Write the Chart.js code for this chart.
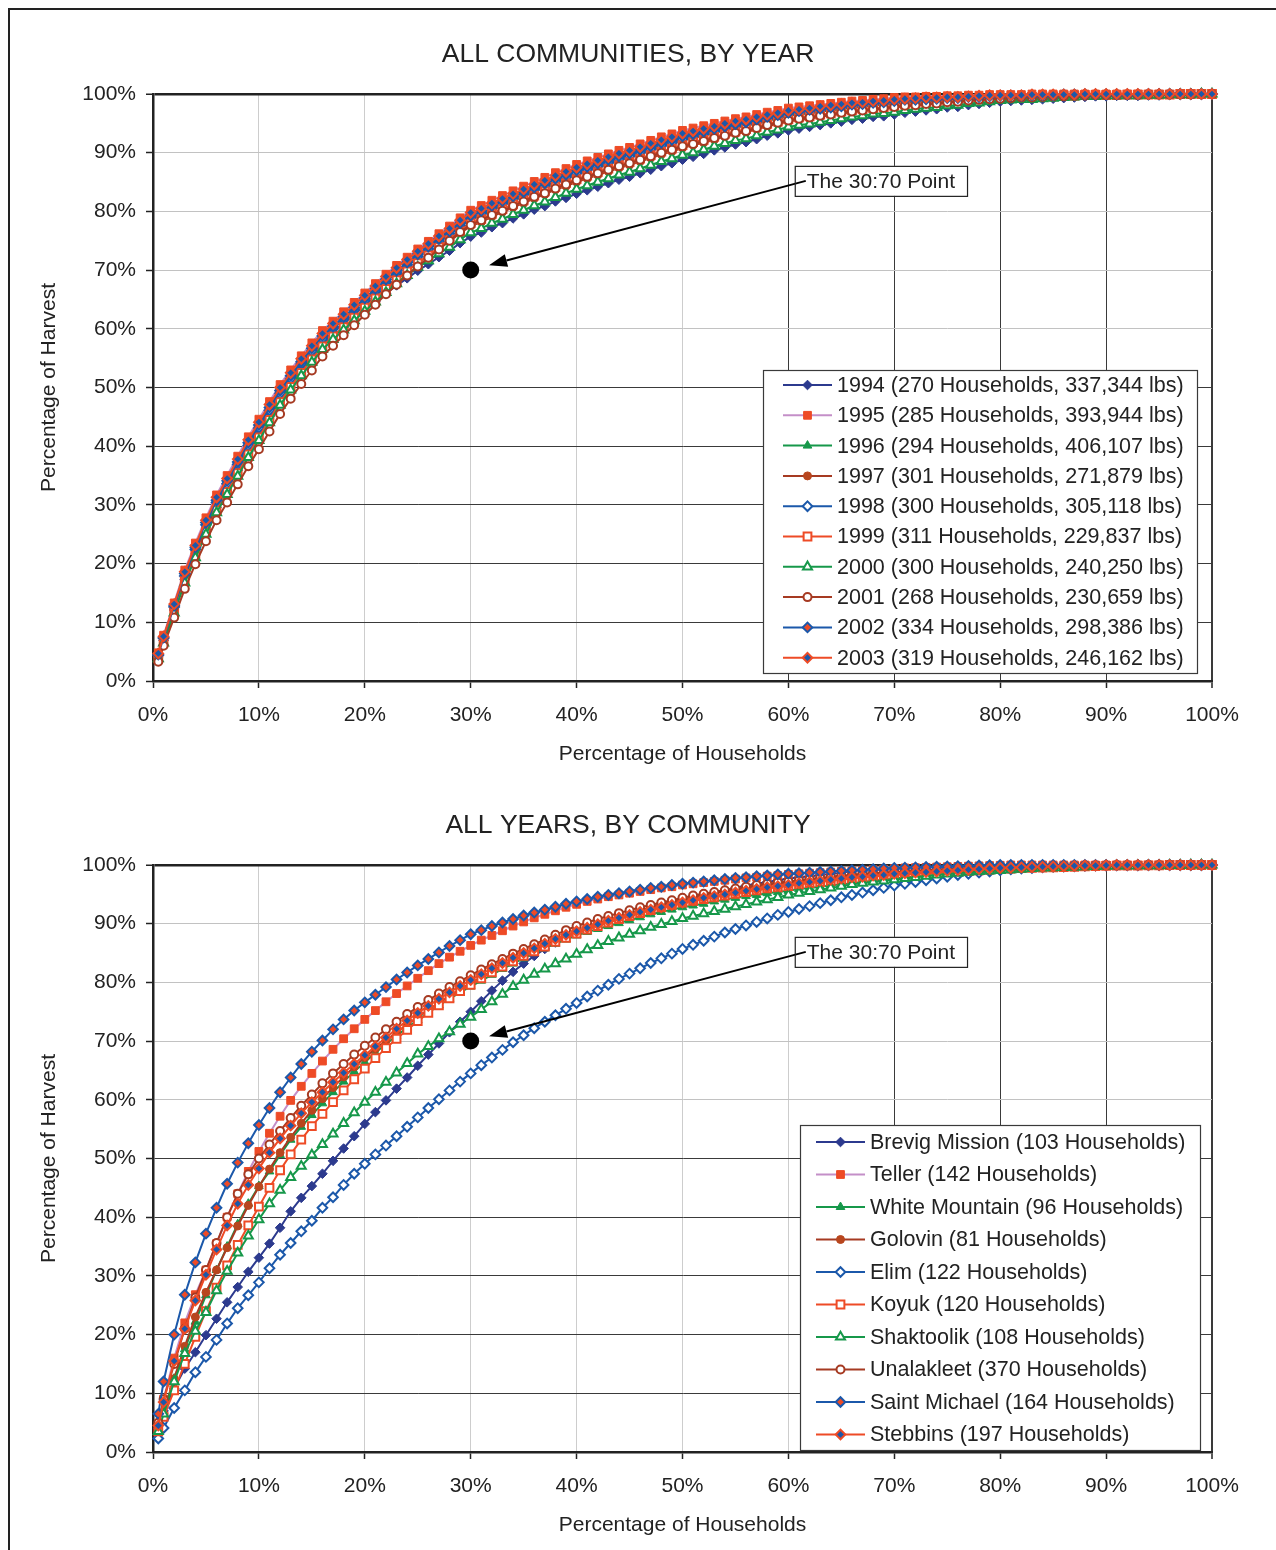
<!DOCTYPE html>
<html>
<head>
<meta charset="utf-8">
<title>Harvest distribution curves</title>
<script src="https://cdn.jsdelivr.net/npm/chart.js@4.4.0/dist/chart.umd.min.js"></script>
<style>
  html, body { margin: 0; padding: 0; background: #fff; }
  body { width: 1276px; height: 1550px; position: relative; overflow: hidden; }
  .frame { position: absolute; left: 8px; top: 8px; width: 1300px; height: 1600px;
           border-top: 2px solid #222; border-left: 2px solid #222; }
  canvas { position: absolute; left: 0; }
  #byYear { top: 0; }
  #byCommunity { top: 771px; }
</style>
</head>
<body>
<div class="frame"></div>
<canvas id="byYear" width="1276" height="779"></canvas>
<canvas id="byCommunity" width="1276" height="779"></canvas>
<script>
// cumulative % of households (x) at which the curves were read
const householdPct = [0.5, 1, 2, 3, 4, 5, 6, 7, 8, 9, 10,
  11, 12, 13, 14, 15, 16, 17, 18, 19, 20,
  21, 22, 23, 24, 25, 26, 27, 28, 29, 30,
  31, 32, 33, 34, 35, 36, 37, 38, 39, 40,
  41, 42, 43, 44, 45, 46, 47, 48, 49, 50,
  51, 52, 53, 54, 55, 56, 57, 58, 59, 60,
  61, 62, 63, 64, 65, 66, 67, 68, 69, 70,
  71, 72, 73, 74, 75, 76, 77, 78, 79, 80,
  81, 82, 83, 84, 85, 86, 87, 88, 89, 90,
  91, 92, 93, 94, 95, 96, 97, 98, 99, 100];

const yearLabels = [
  '1994 (270 Households, 337,344 lbs)',
  '1995 (285 Households, 393,944 lbs)',
  '1996 (294 Households, 406,107 lbs)',
  '1997 (301 Households, 271,879 lbs)',
  '1998 (300 Households, 305,118 lbs)',
  '1999 (311 Households, 229,837 lbs)',
  '2000 (300 Households, 240,250 lbs)',
  '2001 (268 Households, 230,659 lbs)',
  '2002 (334 Households, 298,386 lbs)',
  '2003 (319 Households, 246,162 lbs)'
];

const communityLabels = [
  'Brevig Mission (103 Households)',
  'Teller (142 Households)',
  'White Mountain (96 Households)',
  'Golovin (81 Households)',
  'Elim (122 Households)',
  'Koyuk (120 Households)',
  'Shaktoolik (108 Households)',
  'Unalakleet (370 Households)',
  'Saint Michael (164 Households)',
  'Stebbins (197 Households)'
];

// cumulative % of harvest, all communities by year
const y1994 = [4.1, 6.9, 12.1, 17.3, 21.7, 25.8, 29.6, 32.7, 35.9, 39.1, 42.1,
  45.1, 48.0, 50.6, 53.0, 55.3, 57.2, 58.8, 60.2, 61.7, 63.1,
  64.6, 66.0, 67.4, 68.6, 69.9, 71.0, 72.2, 73.3, 74.6, 75.7,
  76.4, 77.3, 78.0, 78.8, 79.5, 80.3, 80.9, 81.7, 82.3, 83.0,
  83.6, 84.2, 84.8, 85.4, 85.9, 86.5, 87.1, 87.7, 88.2, 88.8,
  89.3, 89.8, 90.4, 90.9, 91.4, 91.8, 92.3, 92.9, 93.3, 93.8,
  94.1, 94.4, 94.7, 95.0, 95.3, 95.6, 95.8, 96.1, 96.2, 96.5,
  96.8, 97.0, 97.2, 97.4, 97.7, 97.8, 98.1, 98.3, 98.5, 98.7,
  98.8, 98.9, 99.0, 99.1, 99.2, 99.3, 99.4, 99.5, 99.6, 99.6,
  99.7, 99.7, 99.7, 99.8, 99.8, 99.9, 99.9, 99.9, 100, 100];
const y1995 = [4.8, 7.8, 13.3, 18.9, 23.5, 27.8, 31.7, 35.0, 38.3, 41.6, 44.6,
  47.6, 50.5, 53.0, 55.4, 57.6, 59.7, 61.3, 62.9, 64.5, 66.1,
  67.7, 69.3, 70.8, 72.2, 73.6, 74.9, 76.2, 77.5, 78.9, 80.2,
  81.0, 81.9, 82.7, 83.5, 84.3, 85.1, 85.8, 86.6, 87.3, 88.0,
  88.6, 89.2, 89.8, 90.4, 90.9, 91.5, 92.1, 92.7, 93.2, 93.8,
  94.2, 94.6, 95.0, 95.4, 95.8, 96.1, 96.5, 96.9, 97.2, 97.6,
  97.8, 98.0, 98.2, 98.4, 98.6, 98.8, 98.9, 99.1, 99.2, 99.4,
  99.5, 99.5, 99.6, 99.6, 99.7, 99.7, 99.8, 99.8, 99.9, 99.9,
  99.9, 99.9, 100, 100, 100, 100, 100, 100, 100, 100,
  100, 100, 100, 100, 100, 100, 100, 100, 100, 100];
const y1996 = [4.5, 7.4, 12.8, 18.3, 22.8, 27.0, 30.8, 34.1, 37.3, 40.6, 43.6,
  46.6, 49.5, 52.0, 54.4, 56.7, 58.7, 60.3, 61.9, 63.5, 65.1,
  66.6, 68.2, 69.7, 71.0, 72.4, 73.7, 74.9, 76.2, 77.6, 78.6,
  79.4, 80.3, 81.1, 81.9, 82.6, 83.4, 84.1, 84.9, 85.6, 86.3,
  86.9, 87.5, 88.1, 88.7, 89.2, 89.8, 90.4, 91.0, 91.5, 92.1,
  92.5, 92.9, 93.4, 93.8, 94.3, 94.6, 95.0, 95.5, 95.8, 96.3,
  96.5, 96.7, 97.0, 97.2, 97.4, 97.7, 97.8, 98.1, 98.2, 98.4,
  98.6, 98.6, 98.8, 98.8, 99.0, 99.0, 99.2, 99.3, 99.4, 99.5,
  99.5, 99.6, 99.6, 99.7, 99.7, 99.8, 99.8, 99.8, 99.8, 99.9,
  99.9, 99.9, 99.9, 99.9, 99.9, 99.9, 100, 100, 100, 100];
const y1997 = [4.2, 7.1, 12.3, 17.6, 22.1, 26.2, 30.0, 33.2, 36.4, 39.6, 42.6,
  45.6, 48.5, 51.0, 53.5, 55.7, 57.8, 59.4, 60.9, 62.5, 64.0,
  65.5, 67.1, 68.5, 69.9, 71.2, 72.4, 73.7, 74.9, 76.3, 77.5,
  78.2, 79.1, 79.9, 80.7, 81.4, 82.2, 82.9, 83.7, 84.3, 85.0,
  85.6, 86.2, 86.8, 87.4, 87.9, 88.5, 89.1, 89.7, 90.2, 90.8,
  91.3, 91.7, 92.2, 92.7, 93.2, 93.5, 94.0, 94.5, 94.9, 95.3,
  95.6, 95.8, 96.1, 96.4, 96.6, 96.9, 97.0, 97.3, 97.4, 97.7,
  97.9, 98.0, 98.2, 98.3, 98.5, 98.6, 98.8, 98.9, 99.1, 99.2,
  99.2, 99.3, 99.4, 99.5, 99.5, 99.6, 99.6, 99.7, 99.7, 99.8,
  99.8, 99.8, 99.8, 99.9, 99.9, 99.9, 99.9, 99.9, 100, 100];
const y1998 = [4.4, 7.3, 12.6, 17.9, 22.4, 26.6, 30.4, 33.6, 36.9, 40.1, 43.1,
  46.1, 49.0, 51.5, 54.0, 56.2, 58.3, 60.0, 61.6, 63.2, 64.8,
  66.4, 68.0, 69.5, 70.9, 72.3, 73.6, 74.9, 76.2, 77.6, 78.9,
  79.6, 80.5, 81.3, 82.1, 82.9, 83.7, 84.3, 85.1, 85.8, 86.5,
  87.1, 87.7, 88.3, 88.9, 89.4, 90.0, 90.6, 91.2, 91.7, 92.3,
  92.7, 93.2, 93.6, 94.1, 94.5, 94.8, 95.2, 95.7, 96.0, 96.5,
  96.7, 96.9, 97.2, 97.4, 97.6, 97.8, 98.0, 98.2, 98.3, 98.5,
  98.7, 98.8, 98.9, 98.9, 99.1, 99.1, 99.3, 99.4, 99.5, 99.5,
  99.6, 99.6, 99.7, 99.7, 99.8, 99.8, 99.8, 99.9, 99.9, 99.9,
  99.9, 99.9, 99.9, 99.9, 99.9, 100, 100, 100, 100, 100];
const y1999 = [3.9, 6.7, 11.8, 17.0, 21.3, 25.4, 29.1, 32.2, 35.4, 38.6, 41.5,
  44.5, 47.5, 50.1, 52.5, 54.8, 57.0, 58.7, 60.3, 61.9, 63.6,
  65.2, 66.8, 68.3, 69.8, 71.2, 72.5, 73.9, 75.2, 76.6, 78.0,
  78.7, 79.6, 80.4, 81.2, 81.9, 82.7, 83.4, 84.2, 84.8, 85.5,
  86.1, 86.7, 87.3, 87.9, 88.4, 89.0, 89.6, 90.2, 90.7, 91.3,
  91.8, 92.2, 92.7, 93.2, 93.6, 94.0, 94.4, 94.9, 95.3, 95.7,
  96.0, 96.2, 96.5, 96.7, 97.0, 97.2, 97.4, 97.6, 97.7, 98.0,
  98.2, 98.3, 98.4, 98.5, 98.7, 98.8, 99.0, 99.1, 99.2, 99.3,
  99.4, 99.4, 99.5, 99.6, 99.6, 99.7, 99.7, 99.8, 99.8, 99.8,
  99.8, 99.9, 99.9, 99.9, 99.9, 99.9, 100, 100, 100, 100];
const y2000 = [3.8, 6.5, 11.6, 16.7, 21.0, 25.0, 28.7, 31.8, 34.9, 38.1, 41.0,
  44.0, 47.0, 49.6, 52.0, 54.3, 56.5, 58.2, 59.8, 61.4, 63.0,
  64.6, 66.2, 67.7, 69.1, 70.5, 71.6, 72.8, 73.9, 75.2, 76.4,
  77.1, 78.0, 78.7, 79.5, 80.2, 81.0, 81.6, 82.4, 83.1, 83.8,
  84.4, 85.0, 85.6, 86.2, 86.7, 87.3, 87.9, 88.5, 89.0, 89.6,
  90.0, 90.5, 91.1, 91.6, 92.1, 92.4, 92.9, 93.5, 93.9, 94.4,
  94.7, 94.9, 95.2, 95.5, 95.8, 96.1, 96.3, 96.6, 96.7, 96.9,
  97.2, 97.4, 97.6, 97.7, 98.0, 98.1, 98.4, 98.5, 98.7, 98.9,
  99.0, 99.1, 99.1, 99.2, 99.3, 99.4, 99.5, 99.6, 99.6, 99.7,
  99.7, 99.7, 99.7, 99.8, 99.8, 99.9, 99.9, 99.9, 100, 100];
const y2001 = [3.3, 6.0, 10.8, 15.7, 19.9, 23.8, 27.4, 30.4, 33.5, 36.6, 39.5,
  42.5, 45.5, 48.1, 50.6, 52.9, 55.3, 57.1, 58.9, 60.6, 62.4,
  64.1, 65.9, 67.5, 69.1, 70.6, 72.1, 73.5, 75.0, 76.5, 77.7,
  78.5, 79.4, 80.1, 80.9, 81.7, 82.5, 83.1, 83.9, 84.6, 85.3,
  85.9, 86.5, 87.1, 87.7, 88.2, 88.8, 89.4, 90.0, 90.5, 91.1,
  91.5, 92.0, 92.5, 92.9, 93.4, 93.7, 94.2, 94.7, 95.1, 95.5,
  95.8, 96.0, 96.3, 96.5, 96.8, 97.0, 97.2, 97.4, 97.6, 97.8,
  98.0, 98.1, 98.3, 98.4, 98.6, 98.7, 98.9, 99.0, 99.1, 99.2,
  99.3, 99.4, 99.4, 99.5, 99.6, 99.6, 99.7, 99.7, 99.8, 99.8,
  99.8, 99.8, 99.8, 99.9, 99.9, 99.9, 99.9, 99.9, 100, 100];
const y2002 = [4.5, 7.4, 12.8, 18.3, 22.8, 27.0, 30.8, 34.1, 37.3, 40.6, 43.6,
  46.6, 49.5, 52.0, 54.4, 56.7, 58.8, 60.4, 62.0, 63.6, 65.2,
  66.8, 68.4, 69.9, 71.3, 72.7, 74.0, 75.3, 76.6, 78.0, 79.3,
  80.1, 81.0, 81.8, 82.6, 83.3, 84.1, 84.8, 85.6, 86.3, 87.0,
  87.6, 88.2, 88.8, 89.4, 89.9, 90.5, 91.1, 91.7, 92.2, 92.8,
  93.2, 93.6, 94.1, 94.5, 94.9, 95.2, 95.7, 96.1, 96.4, 96.8,
  97.1, 97.3, 97.5, 97.7, 97.9, 98.2, 98.3, 98.5, 98.6, 98.8,
  99.0, 99.0, 99.1, 99.2, 99.3, 99.3, 99.5, 99.5, 99.6, 99.7,
  99.7, 99.7, 99.8, 99.8, 99.8, 99.9, 99.9, 99.9, 99.9, 99.9,
  99.9, 99.9, 99.9, 100, 100, 100, 100, 100, 100, 100];
const y2003 = [4.7, 7.6, 13.1, 18.6, 23.1, 27.4, 31.3, 34.5, 37.8, 41.1, 44.1,
  47.1, 50.0, 52.5, 54.9, 57.1, 59.2, 60.9, 62.5, 64.1, 65.7,
  67.3, 68.9, 70.4, 71.8, 73.2, 74.5, 75.8, 77.1, 78.5, 79.8,
  80.5, 81.4, 82.2, 83.0, 83.8, 84.6, 85.3, 86.1, 86.8, 87.5,
  88.1, 88.7, 89.3, 89.9, 90.4, 91.0, 91.6, 92.2, 92.7, 93.3,
  93.7, 94.1, 94.5, 95.0, 95.4, 95.7, 96.1, 96.5, 96.8, 97.2,
  97.4, 97.6, 97.9, 98.1, 98.3, 98.5, 98.6, 98.8, 98.9, 99.1,
  99.2, 99.3, 99.4, 99.4, 99.5, 99.5, 99.6, 99.7, 99.8, 99.8,
  99.8, 99.8, 99.9, 99.9, 99.9, 99.9, 99.9, 100, 100, 100,
  100, 100, 100, 100, 100, 100, 100, 100, 100, 100];

// cumulative % of harvest, all years by community
const brevigMission = [4.0, 7.0, 10.8, 14.2, 17.0, 19.9, 22.7, 25.5, 28.1, 30.7, 33.1,
  35.5, 38.2, 41.0, 43.3, 45.3, 47.4, 49.6, 51.7, 53.8, 55.9,
  57.9, 59.9, 61.9, 63.8, 65.8, 67.7, 69.6, 71.5, 73.3, 75.0,
  76.8, 78.6, 80.3, 81.8, 83.2, 84.5, 85.7, 86.8, 87.8, 88.6,
  89.3, 89.9, 90.4, 90.9, 91.5, 92.0, 92.5, 93.0, 93.5, 94.0,
  94.5, 94.9, 95.3, 95.7, 96.1, 96.5, 96.8, 97.1, 97.4, 97.7,
  97.9, 98.1, 98.3, 98.5, 98.7, 98.9, 99.0, 99.1, 99.2, 99.3,
  99.4, 99.5, 99.6, 99.6, 99.7, 99.7, 99.8, 99.8, 99.9, 99.9,
  99.9, 100, 100, 100, 100, 100, 100, 100, 100, 100,
  100, 100, 100, 100, 100, 100, 100, 100, 100, 100];
const teller = [4.5, 9.0, 16.0, 22.0, 26.8, 31.0, 35.5, 40.0, 44.0, 47.8, 51.2,
  54.3, 57.2, 59.9, 62.3, 64.5, 66.6, 68.6, 70.4, 72.1, 73.7,
  75.2, 76.7, 78.1, 79.4, 80.7, 82.0, 83.2, 84.3, 85.3, 86.3,
  87.2, 88.0, 88.8, 89.6, 90.3, 91.0, 91.6, 92.2, 92.8, 93.3,
  93.8, 94.2, 94.6, 94.9, 95.2, 95.5, 95.8, 96.1, 96.3, 96.6,
  96.8, 97.0, 97.2, 97.4, 97.6, 97.8, 97.9, 98.1, 98.2, 98.4,
  98.5, 98.6, 98.7, 98.8, 98.9, 99.0, 99.1, 99.2, 99.3, 99.4,
  99.5, 99.55, 99.6, 99.65, 99.7, 99.75, 99.8, 99.85, 99.9, 99.95,
  100, 100, 100, 100, 100, 100, 100, 100, 100, 100,
  100, 100, 100, 100, 100, 100, 100, 100, 100, 100];
const whiteMountain = [3.5, 7.0, 12.5, 17.5, 22.2, 26.7, 31.0, 35.0, 38.8, 42.3, 45.3,
  47.8, 50.6, 53.2, 55.4, 57.4, 59.4, 61.3, 63.1, 64.8, 66.4,
  68.0, 69.5, 70.9, 72.3, 73.6, 74.9, 76.1, 77.2, 78.3, 79.3,
  80.3, 81.3, 82.3, 83.2, 84.1, 85.0, 85.8, 86.6, 87.3, 88.0,
  88.6, 89.1, 89.6, 90.1, 90.6, 91.1, 91.6, 92.0, 92.4, 92.8,
  93.1, 93.4, 93.8, 94.1, 94.4, 94.7, 94.9, 95.2, 95.4, 95.6,
  95.9, 96.1, 96.3, 96.5, 96.7, 96.9, 97.1, 97.3, 97.5, 97.7,
  97.9, 98.0, 98.2, 98.3, 98.5, 98.6, 98.7, 98.8, 98.9, 99.0,
  99.1, 99.2, 99.3, 99.4, 99.5, 99.55, 99.6, 99.7, 99.75, 99.8,
  99.8, 99.85, 99.85, 99.9, 99.9, 99.95, 99.95, 100, 100, 100];
const golovin = [3.5, 6.5, 12.5, 18.0, 23.0, 27.2, 31.0, 34.8, 38.5, 42.0, 45.2,
  48.2, 51.0, 53.6, 56.0, 58.2, 60.2, 62.1, 63.9, 65.6, 67.2,
  68.7, 70.1, 71.5, 72.8, 74.1, 75.3, 76.5, 77.7, 78.8, 79.9,
  80.9, 81.9, 82.9, 83.8, 84.7, 85.6, 86.4, 87.2, 88.0, 88.7,
  89.4, 90.0, 90.6, 91.2, 91.8, 92.3, 92.8, 93.3, 93.7, 94.1,
  94.5, 94.9, 95.2, 95.5, 95.8, 96.1, 96.4, 96.6, 96.8, 97.0,
  97.2, 97.4, 97.6, 97.8, 98.0, 98.1, 98.3, 98.4, 98.5, 98.6,
  98.7, 98.8, 98.9, 99.0, 99.1, 99.2, 99.3, 99.35, 99.4, 99.5,
  99.55, 99.6, 99.65, 99.7, 99.75, 99.8, 99.85, 99.9, 99.9, 99.95,
  100, 100, 100, 100, 100, 100, 100, 100, 100, 100];
const elim = [2.3, 4.1, 7.5, 10.5, 13.6, 16.2, 19.1, 21.9, 24.5, 26.7, 28.9,
  31.3, 33.6, 35.6, 37.6, 39.4, 41.6, 43.4, 45.5, 47.4, 49.1,
  50.7, 52.2, 53.8, 55.4, 57.0, 58.6, 60.1, 61.6, 63.1, 64.5,
  65.9, 67.2, 68.5, 69.8, 71.0, 72.2, 73.3, 74.4, 75.5, 76.5,
  77.6, 78.6, 79.6, 80.6, 81.5, 82.4, 83.3, 84.1, 84.9, 85.7,
  86.4, 87.1, 87.8, 88.5, 89.1, 89.7, 90.3, 90.9, 91.5, 92.0,
  92.5, 93.0, 93.5, 94.0, 94.5, 94.9, 95.3, 95.7, 96.1, 96.5,
  96.8, 97.1, 97.4, 97.7, 98.0, 98.3, 98.5, 98.7, 98.9, 99.1,
  99.25, 99.4, 99.5, 99.6, 99.7, 99.75, 99.8, 99.85, 99.9, 99.9,
  99.95, 99.95, 99.95, 100, 100, 100, 100, 100, 100, 100];
const koyuk = [3.5, 6.0, 10.5, 15.0, 19.6, 24.0, 28.0, 31.8, 35.3, 38.6, 41.8,
  45.0, 48.0, 50.7, 53.2, 55.5, 57.6, 59.6, 61.6, 63.5, 65.3,
  67.1, 68.8, 70.4, 71.9, 73.4, 74.8, 76.1, 77.3, 78.5, 79.6,
  80.7, 81.7, 82.7, 83.6, 84.5, 85.3, 86.1, 86.9, 87.6, 88.3,
  89.0, 89.6, 90.2, 90.8, 91.3, 91.8, 92.3, 92.8, 93.2, 93.6,
  93.9, 94.2, 94.5, 94.8, 95.1, 95.4, 95.7, 96.0, 96.2, 96.4,
  96.7, 96.9, 97.1, 97.3, 97.5, 97.7, 97.9, 98.0, 98.2, 98.3,
  98.4, 98.5, 98.6, 98.7, 98.8, 98.9, 99.0, 99.1, 99.2, 99.3,
  99.4, 99.45, 99.5, 99.55, 99.6, 99.65, 99.7, 99.75, 99.8, 99.85,
  99.9, 99.9, 99.9, 99.95, 99.95, 100, 100, 100, 100, 100];
const shaktoolik = [3.5, 6.5, 12.0, 16.8, 20.6, 23.8, 27.5, 30.8, 33.9, 36.8, 39.6,
  42.3, 44.6, 46.8, 48.7, 50.6, 52.4, 54.2, 56.0, 57.8, 59.6,
  61.3, 63.0, 64.6, 66.2, 67.8, 69.1, 70.4, 71.6, 72.9, 74.1,
  75.4, 76.7, 78.0, 79.3, 80.4, 81.4, 82.3, 83.2, 84.0, 84.8,
  85.6, 86.3, 87.0, 87.6, 88.2, 88.8, 89.4, 89.9, 90.4, 90.9,
  91.3, 91.7, 92.1, 92.5, 92.9, 93.3, 93.7, 94.1, 94.5, 94.9,
  95.2, 95.5, 95.8, 96.1, 96.4, 96.7, 96.9, 97.1, 97.3, 97.5,
  97.7, 97.9, 98.1, 98.3, 98.5, 98.6, 98.8, 98.9, 99.0, 99.1,
  99.2, 99.3, 99.4, 99.5, 99.55, 99.6, 99.65, 99.7, 99.75, 99.8,
  99.85, 99.85, 99.9, 99.9, 99.9, 99.95, 99.95, 100, 100, 100];
const unalakleet = [5.0, 9.0, 15.0, 21.0, 26.3, 31.0, 35.6, 40.0, 44.0, 47.3, 50.0,
  52.4, 54.7, 56.9, 59.0, 60.9, 62.8, 64.5, 66.1, 67.7, 69.2,
  70.6, 72.0, 73.3, 74.6, 75.8, 77.0, 78.1, 79.2, 80.2, 81.2,
  82.2, 83.1, 84.0, 84.9, 85.7, 86.5, 87.3, 88.1, 88.9, 89.6,
  90.2, 90.8, 91.3, 91.8, 92.3, 92.8, 93.2, 93.6, 94.0, 94.4,
  94.8, 95.1, 95.4, 95.7, 96.0, 96.3, 96.6, 96.8, 97.0, 97.2,
  97.4, 97.6, 97.8, 98.0, 98.2, 98.3, 98.5, 98.6, 98.7, 98.8,
  98.9, 99.0, 99.1, 99.2, 99.3, 99.35, 99.4, 99.5, 99.55, 99.6,
  99.65, 99.7, 99.7, 99.75, 99.8, 99.8, 99.85, 99.9, 99.9, 99.9,
  99.95, 99.95, 99.95, 100, 100, 100, 100, 100, 100, 100];
const saintMichael = [6.5, 12.0, 20.0, 26.8, 32.3, 37.2, 41.6, 45.7, 49.3, 52.6, 55.7,
  58.6, 61.3, 63.8, 66.1, 68.2, 70.1, 72.0, 73.7, 75.2, 76.6,
  77.9, 79.2, 80.5, 81.7, 82.9, 84.0, 85.1, 86.2, 87.2, 88.2,
  88.9, 89.6, 90.2, 90.8, 91.4, 91.9, 92.4, 92.9, 93.4, 93.8,
  94.2, 94.6, 94.9, 95.2, 95.5, 95.8, 96.1, 96.3, 96.6, 96.8,
  97.0, 97.2, 97.4, 97.6, 97.8, 97.9, 98.1, 98.2, 98.4, 98.5,
  98.6, 98.7, 98.8, 98.9, 99.0, 99.1, 99.2, 99.3, 99.4, 99.5,
  99.55, 99.6, 99.65, 99.7, 99.75, 99.8, 99.85, 99.9, 99.95, 100,
  100, 100, 100, 100, 100, 100, 100, 100, 100, 100,
  100, 100, 100, 100, 100, 100, 100, 100, 100, 100];
const stebbins = [4.5, 8.5, 15.5, 21.0, 25.8, 30.2, 34.5, 38.6, 42.3, 45.5, 48.3,
  51.0, 53.4, 55.6, 57.7, 59.6, 61.3, 63.0, 64.6, 66.1, 67.6,
  69.1, 70.6, 72.1, 73.5, 74.8, 76.0, 77.2, 78.3, 79.4, 80.4,
  81.4, 82.4, 83.3, 84.2, 85.0, 85.8, 86.6, 87.4, 88.1, 88.7,
  89.3, 89.9, 90.5, 91.0, 91.5, 92.0, 92.4, 92.8, 93.2, 93.6,
  94.0, 94.4, 94.7, 95.0, 95.3, 95.6, 95.9, 96.2, 96.4, 96.6,
  96.9, 97.1, 97.3, 97.5, 97.7, 97.9, 98.0, 98.2, 98.3, 98.5,
  98.6, 98.7, 98.8, 98.9, 99.0, 99.1, 99.2, 99.3, 99.4, 99.5,
  99.55, 99.6, 99.65, 99.7, 99.75, 99.8, 99.85, 99.9, 99.9, 99.95,
  100, 100, 100, 100, 100, 100, 100, 100, 100, 100];

const pctTicks = [0, 10, 20, 30, 40, 50, 60, 70, 80, 90, 100];

const NAVY = '#2c3a8e';
const ORANGE = '#ee4b26';
const LAVENDER = '#c48fc8';
const GREEN = '#16984a';
const BROWN = '#a63a22';
const RUST = '#b8461e';
const BLUE = '#1b58aa';

// same marker / line style for the n-th series of both charts
const seriesStyles = [
  { line: NAVY, shape: 'rectRot', fill: NAVY, edge: NAVY, r: 4.8, bw: 1 },
  { line: LAVENDER, shape: 'rect', fill: ORANGE, edge: ORANGE, r: 5.5, bw: 1 },
  { line: GREEN, shape: 'triangle', fill: GREEN, edge: GREEN, r: 5, bw: 1 },
  { line: BROWN, shape: 'circle', fill: RUST, edge: RUST, r: 4, bw: 1 },
  { line: BLUE, shape: 'rectRot', fill: '#fff', edge: BLUE, r: 4.8, bw: 2 },
  { line: ORANGE, shape: 'rect', fill: '#fff', edge: ORANGE, r: 5.5, bw: 2 },
  { line: GREEN, shape: 'triangle', fill: '#fff', edge: GREEN, r: 5.2, bw: 2 },
  { line: BROWN, shape: 'circle', fill: '#fff', edge: BROWN, r: 4, bw: 2 },
  { line: BLUE, shape: 'rectRot', fill: ORANGE, edge: BLUE, r: 4.8, bw: 2 },
  { line: ORANGE, shape: 'rectRot', fill: BLUE, edge: ORANGE, r: 4.8, bw: 2 }
];

const FONT = '"Liberation Sans", Arial, Helvetica, sans-serif';
Chart.defaults.font.family = FONT;
Chart.defaults.color = '#222';

function makeDatasets(labels, series) {
  return series.map((vals, i) => {
    const s = seriesStyles[i];
    return {
      label: labels[i],
      data: vals.map((v, k) => ({ x: householdPct[k], y: v })),
      borderColor: s.line,
      borderWidth: 2,
      pointStyle: s.shape,
      pointRadius: s.r,
      pointBackgroundColor: s.fill,
      pointBorderColor: s.edge,
      pointBorderWidth: s.bw,
      tension: 0,
      clip: false,
      order: series.length - i   // later series drawn on top
    };
  });
}

// legend box drawn inside the plot, like the original
const boxLegend = {
  id: 'boxLegend',
  afterDraw(chart, args, o) {
    const ctx = chart.ctx;
    ctx.save();
    ctx.fillStyle = '#fff';
    ctx.fillRect(o.x, o.y, o.w, o.h);
    ctx.strokeStyle = '#3a3a3a';
    ctx.lineWidth = 1.2;
    ctx.strokeRect(o.x + 0.5, o.y + 0.5, o.w, o.h);
    ctx.font = '21.5px ' + FONT;
    ctx.textBaseline = 'middle';
    chart.data.datasets.forEach((ds, i) => {
      const cy = o.y + o.firstRow + i * o.rowGap;
      ctx.strokeStyle = ds.borderColor;
      ctx.lineWidth = 2;
      ctx.beginPath();
      ctx.moveTo(o.x + o.lineFrom, cy);
      ctx.lineTo(o.x + o.lineTo, cy);
      ctx.stroke();
      ctx.fillStyle = ds.pointBackgroundColor;
      ctx.strokeStyle = ds.pointBorderColor;
      ctx.lineWidth = ds.pointBorderWidth;
      Chart.helpers.drawPoint(ctx, {
        pointStyle: ds.pointStyle, radius: ds.pointRadius, rotation: 0, borderWidth: ds.pointBorderWidth
      }, o.x + (o.lineFrom + o.lineTo) / 2, cy);
      ctx.fillStyle = '#222';
      ctx.fillText(ds.label, o.x + o.textX, cy + 1);
    });
    ctx.restore();
  }
};

// "The 30:70 Point" call-out
const pointNote = {
  id: 'pointNote',
  afterDraw(chart, args, o) {
    const { ctx, scales } = chart;
    const px = scales.x.getPixelForValue(o.at[0]);
    const py = scales.y.getPixelForValue(o.at[1]);
    const bl = scales.x.getPixelForValue(o.box[0]);
    const bm = scales.y.getPixelForValue(o.box[1]);
    ctx.save();
    ctx.font = '21px ' + FONT;
    const bw = ctx.measureText(o.text).width + 24;
    const bh = 30;
    ctx.fillStyle = '#fff';
    ctx.fillRect(bl, bm - bh / 2, bw, bh);

    ctx.fillStyle = '#000';
    ctx.beginPath();
    ctx.arc(px, py, 8.5, 0, Math.PI * 2);
    ctx.fill();

    const sx = bl + 11, sy = bm;
    const dx = px - sx, dy = py - sy;
    const len = Math.hypot(dx, dy);
    const ux = dx / len, uy = dy / len;
    const tipX = px - ux * 19, tipY = py - uy * 19;
    const baseX = tipX - ux * 18, baseY = tipY - uy * 18;
    ctx.strokeStyle = '#000';
    ctx.lineWidth = 2;
    ctx.beginPath();
    ctx.moveTo(sx, sy);
    ctx.lineTo(baseX, baseY);
    ctx.stroke();
    ctx.beginPath();
    ctx.moveTo(tipX, tipY);
    ctx.lineTo(baseX - uy * 6.5, baseY + ux * 6.5);
    ctx.lineTo(baseX + uy * 6.5, baseY - ux * 6.5);
    ctx.closePath();
    ctx.fill();

    ctx.strokeStyle = '#222';
    ctx.lineWidth = 1.2;
    ctx.strokeRect(bl + 0.5, bm - bh / 2 + 0.5, bw, bh);
    ctx.fillStyle = '#222';
    ctx.textBaseline = 'middle';
    ctx.fillText(o.text, bl + 12, bm + 1);
    ctx.restore();
  }
};

function makeChart(id, title, labels, series, darkXFrom, legendBox) {
  const pctLabel = v => (pctTicks.includes(v) ? v + '%' : '');
  new Chart(document.getElementById(id), {
    type: 'line',
    data: { datasets: makeDatasets(labels, series) },
    options: {
      responsive: false,
      animation: false,
      devicePixelRatio: 1,
      events: [],
      layout: { padding: { left: 44, right: 64, top: 0, bottom: 14 } },
      plugins: {
        legend: { display: false },
        tooltip: { enabled: false },
        title: {
          display: true, text: title, color: '#222',
          font: { size: 26.5, weight: 'normal' },
          padding: { top: 39, bottom: 23.2 }
        },
        boxLegend: legendBox,
        pointNote: { at: [30, 70], box: [60.6, 85.2], text: 'The 30:70 Point' }
      },
      scales: {
        x: {
          type: 'linear', min: 0, max: 100,
          ticks: { stepSize: 10, callback: pctLabel, font: { size: 21 }, padding: 15, color: '#222', maxRotation: 0, autoSkip: false },
          grid: {
            color: c => (c.tick.value >= darkXFrom ? '#3a3a3a' : '#cdcdcd'),
            lineWidth: c => (c.tick.value === 100 ? 2 : 1),
            tickLength: 7, tickColor: '#222', tickWidth: 1.5
          },
          border: { color: '#222', width: 2.5 },
          title: { display: true, text: 'Percentage of Households', font: { size: 21 }, color: '#222', padding: { top: 0, bottom: -2 } },
          afterFit: s => { s.height = 84; s.paddingLeft = 0; s.paddingRight = 0; }
        },
        y: {
          type: 'linear', min: 0, max: 100,
          ticks: { stepSize: 10, callback: pctLabel, font: { size: 21 }, padding: 10, color: '#222' },
          grid: {
            color: c => (c.tick.value === 100 ? '#222' : (c.tick.value <= 50 ? '#3a3a3a' : '#c2c2c2')),
            lineWidth: c => (c.tick.value === 100 ? 2.5 : 1),
            tickLength: 7, tickColor: '#222', tickWidth: 1.5
          },
          border: { color: '#222', width: 2.5 },
          title: { display: true, text: 'Percentage of Harvest', font: { size: 21 }, color: '#222', padding: { top: -7, bottom: 0 } },
          afterFit: s => { s.width = 109; s.paddingTop = 0; s.paddingBottom = 0; }
        }
      }
    },
    plugins: [boxLegend, pointNote]
  });
}

makeChart('byYear', 'ALL COMMUNITIES, BY YEAR', yearLabels,
  [y1994, y1995, y1996, y1997, y1998, y1999, y2000, y2001, y2002, y2003], 60,
  { x: 763, y: 370, w: 434, h: 303, firstRow: 15, rowGap: 30.3, lineFrom: 20, lineTo: 69, textX: 74 });

makeChart('byCommunity', 'ALL YEARS, BY COMMUNITY', communityLabels,
  [brevigMission, teller, whiteMountain, golovin, elim, koyuk, shaktoolik, unalakleet, saintMichael, stebbins], 70,
  { x: 800, y: 354, w: 400, h: 325, firstRow: 17, rowGap: 32.5, lineFrom: 16, lineTo: 65, textX: 70 });
</script>
</body>
</html>
